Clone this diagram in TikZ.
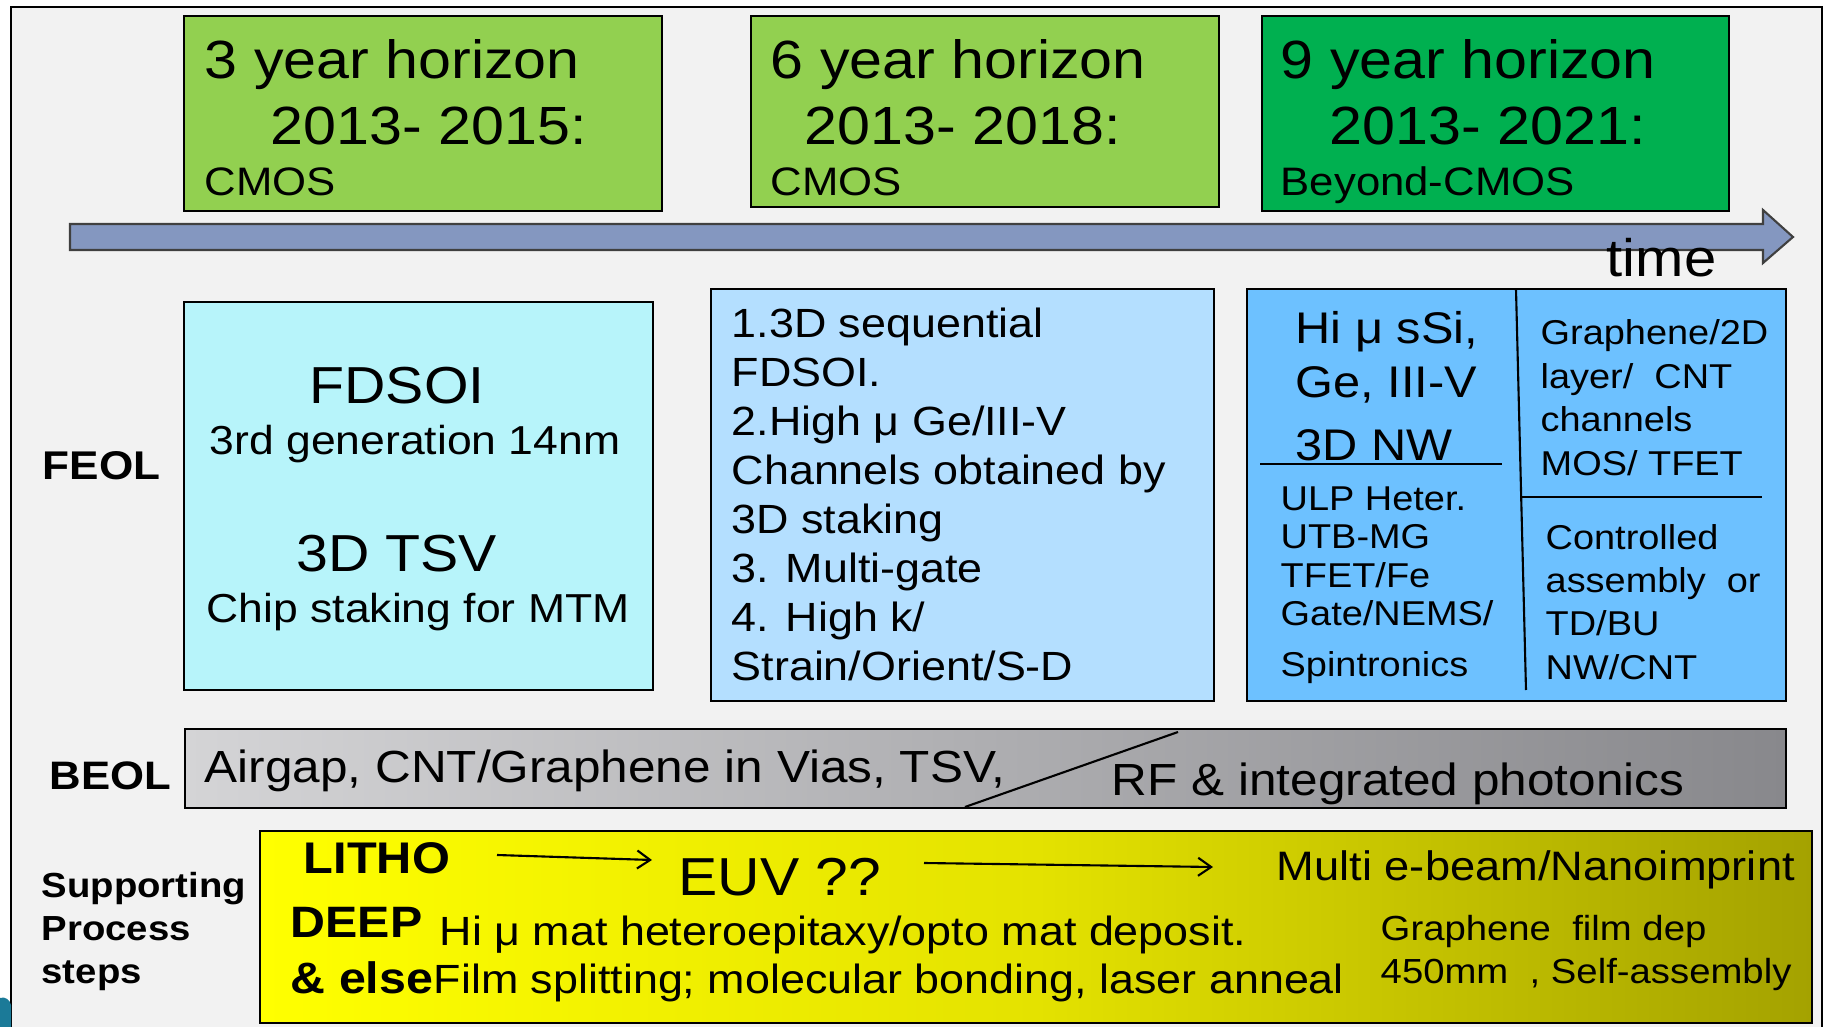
\documentclass[tikz,border=0pt]{standalone}
\usepackage{fontspec}
\setmainfont[FakeStretch=1.1]{Liberation Sans}
\usepackage{xcolor}
\usetikzlibrary{arrows, arrows.meta, positioning, calc, fit}
\definecolor{slidebg}{HTML}{F2F2F2}
\definecolor{lightgreen}{HTML}{92D050}
\definecolor{darkgreen}{HTML}{00B050}
\definecolor{timeblue}{HTML}{8497C0}
\definecolor{feolcyan}{HTML}{B7F4FA}
\definecolor{feollight}{HTML}{B4DFFF}
\definecolor{feolblue}{HTML}{6DC1FF}
\definecolor{beolleft}{HTML}{D4D4D6}
\definecolor{beolright}{HTML}{88888C}
\definecolor{yellowleft}{HTML}{FFFF00}
\definecolor{yellowmid}{HTML}{E4E200}
\definecolor{yellowright}{HTML}{A4A200}
\definecolor{logoteal}{HTML}{1B7A98}
\newcommand{\myfs}[1]{\fontsize{#1}{#1}\selectfont}
\tikzset{
    box/.style={
        rectangle,
        draw=black,
        line width=0.6pt,
        inner sep=0pt,
    },
    txt/.style={
        anchor=base west,
        inner sep=0pt,
    },
    ctxt/.style={
        anchor=base,
        inner sep=0pt,
    },
    thinline/.style={
        draw=black,
        line width=0.6pt,
    },
}

\begin{document}
\begin{tikzpicture}[x=0.01cm, y=-0.01cm, >={Straight Barb[length=1.3mm, width=1.8mm]}]
  \useasboundingbox (0,0) rectangle (1826,1027);
  \fill[white] (0,0) rectangle (1826,1027);
  \fill[slidebg] (11,7) rectangle (1822,1027);
  \draw[thinline] (11,1027) -- (11,7) -- (1822,7) -- (1822,1027);
  \fill[logoteal] (0,998) .. controls (5,996) and (10,1000) .. (11,1005) -- (11,1027) -- (0,1027) -- cycle;

  % horizons
  \node[box, fill=lightgreen, fit={(184,16) (662,211)}] (h3) {};
  \node[box, fill=lightgreen, fit={(751,16) (1219,207)}] (h6) {};
  \node[box, fill=darkgreen, fit={(1262,16) (1729,211)}] (h9) {};
  \node[txt] (h3a) at (204,78) {\myfs{15.3}3 year horizon};
  \node[txt] (h3b) at (270,144) {\myfs{15.3}2013- 2015:};
  \node[txt] (h3c) at (204,195) {\myfs{11.3}CMOS};
  \node[txt] (h6a) at (770,78) {\myfs{15.3}6 year horizon};
  \node[txt] (h6b) at (804,144) {\myfs{15.3}2013- 2018:};
  \node[txt] (h6c) at (770,195) {\myfs{11.3}CMOS};
  \node[txt] (h9a) at (1280,78) {\myfs{15.3}9 year horizon};
  \node[txt] (h9b) at (1329,144) {\myfs{15.3}2013- 2021:};
  \node[txt] (h9c) at (1280,195) {\myfs{11.3}Beyond-CMOS};

  % time arrow
  \draw[fill=timeblue, draw=black!75, line width=0.6pt] (70,224) -- (1763,224) -- (1763,210) -- (1793,237)
      -- (1763,263) -- (1763,250) -- (70,250) -- cycle;
  \node[txt] (time) at (1606,276) {\myfs{15}time};

  % FEOL
  \node[txt] (feol) at (42,479) {\myfs{11.4}\bfseries FEOL};
  \node[box, fill=feolcyan, fit={(184,302) (653,690)}] (fdsoi) {};
  \node[ctxt] (fdsoi1) at (397,403) {\myfs{14.8}FDSOI};
  \node[ctxt] (fdsoi2) at (415,454) {\myfs{11.5}3rd generation 14nm};
  \node[ctxt] (tsv1) at (397,571) {\myfs{14.8}3D TSV};
  \node[ctxt] (tsv2) at (418,622) {\myfs{11.5}Chip staking for MTM};

  \node[box, fill=feollight, fit={(711,289) (1214,701)}] (seq) {};
  \foreach \line [count=\i from 0] in {1.3D sequential, FDSOI., 2.High μ Ge/III-V, Channels obtained by,
      3D staking, 3. Multi-gate, 4. High k/, Strain/Orient/S-D}
    \node[txt] (seq\i) at (731,337+49*\i) {\myfs{11.6}\line};

  \node[box, fill=feolblue, fit={(1247,289) (1786,701)}] (beyond) {};
  \coordinate (vtop) at (1516,289);
  \coordinate (vbot) at (1526,690);
  \coordinate (hl1) at (1260,464);
  \coordinate (hl2) at (1502,464);
  \coordinate (hr1) at (1521,497);
  \coordinate (hr2) at (1762,497);
  \draw[thinline] (vtop) -- (vbot);
  \draw[thinline] (hl1) -- (hl2);
  \draw[thinline] (hr1) -- (hr2);
  \foreach \y/\line in {343/Hi μ sSi{,}, 397/{Ge, III-V}, 460/3D NW}
    \node[txt] at (1295,\y) {\myfs{12.6}\line};
  \foreach \y/\line in {510/ULP Heter., 548/UTB-MG, 587/{TFET/Fe}, 625/{Gate/NEMS/}, 676/Spintronics}
    \node[txt] at (1280,\y) {\myfs{9.8}\line};
  \foreach \y/\line in {344/{Graphene/2D}, 388/{layer/\ \ CNT}, 431/channels, 475/{MOS/ TFET}}
    \node[txt] at (1540,\y) {\myfs{9.8}\line};
  \foreach \y/\line in {549/Controlled, 592/assembly\ \ or, 635/{TD/BU}, 679/{NW/CNT}}
    \node[txt] at (1545,\y) {\myfs{9.8}\line};

  % BEOL
  \node[txt] (beollbl) at (49,789) {\myfs{11.3}\bfseries BEOL};
  \node[box, left color=beolleft, right color=beolright, fit={(185,729) (1786,808)}] (beol) {};
  \coordinate (cut1) at (965,807);
  \coordinate (cut2) at (1178,732);
  \draw[thinline] (cut1) -- (cut2);
  \node[txt] (airgap) at (204,782) {\myfs{12.8}Airgap, CNT/Graphene in Vias, TSV,};
  \node[txt] (rf) at (1111,795) {\myfs{12.8}RF \& integrated photonics};

  % supporting steps
  \node[txt] (sup1) at (41,897) {\myfs{9.9}\bfseries Supporting};
  \node[txt] (sup2) at (41,940) {\myfs{9.9}\bfseries Process};
  \node[txt] (sup3) at (41,983) {\myfs{9.9}\bfseries steps};
  \node[box, left color=yellowleft, right color=yellowright, middle color=yellowmid,
      fit={(260,831) (1812,1023)}] (litho) {};
  \node[txt] (lithoh) at (303,873) {\myfs{12.6}\bfseries LITHO};
  \node[txt] (euv) at (678,895) {\myfs{15.2}EUV ??};
  \node[txt] (ebeam) at (1276,880) {\myfs{11.7}Multi e-beam/Nanoimprint};
  \coordinate (a1s) at (497,855);
  \coordinate (a1e) at (652,860);
  \coordinate (a2s) at (924,863);
  \coordinate (a2e) at (1213,867);
  \draw[thinline, ->] (a1s) -- (a1e);
  \draw[thinline, ->] (a2s) -- (a2e);
  \node[txt] (deep) at (290,937) {\myfs{12.5}\bfseries DEEP};
  \node[txt] (hetero) at (439,945) {\myfs{11.6}Hi μ mat heteroepitaxy/opto mat deposit.};
  \node[txt] (else) at (290,993) {\myfs{12.5}\bfseries \& else};
  \node[txt] (film) at (433,993) {\myfs{11.6}Film splitting; molecular bonding, laser anneal};
  \node[txt] (graph) at (1380,940) {\myfs{9.9}Graphene\ \ film dep};
  \node[txt] (selfas) at (1380,983) {\myfs{9.9}450mm\ \ , Self-assembly};
\end{tikzpicture}
\end{document}
